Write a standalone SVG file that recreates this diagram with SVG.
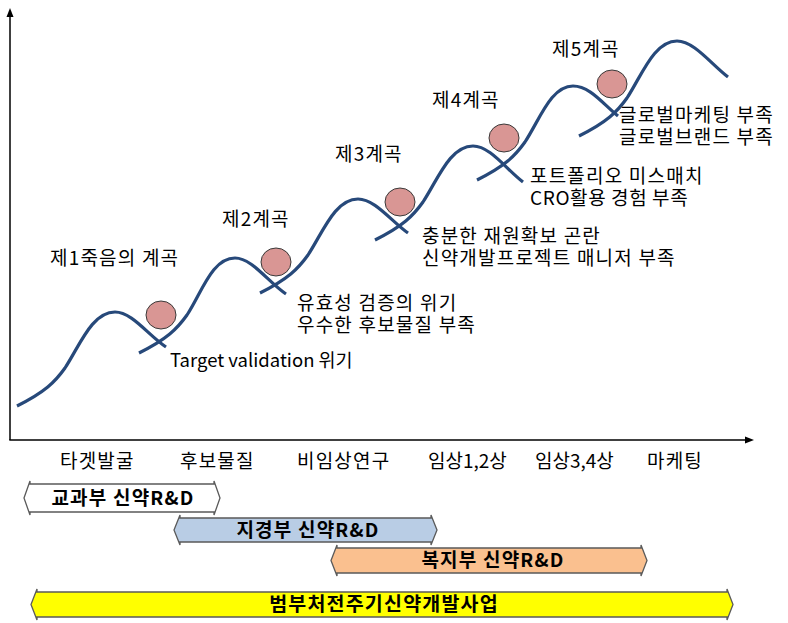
<svg xmlns="http://www.w3.org/2000/svg" width="788" height="623" viewBox="0 0 788 623">
<style>
.t{font-family:"Noto Sans CJK KR","Liberation Sans",sans-serif;font-size:19px;fill:#000}
.k{letter-spacing:1.2px}
.b{font-family:"Noto Sans CJK KR","Liberation Sans",sans-serif;font-size:19px;font-weight:bold;fill:#000;text-anchor:middle;letter-spacing:1.2px}
.w{fill:none;stroke:#27497a;stroke-width:3.2;stroke-linecap:butt}
.c{fill:#d99694;stroke:#3a3a3a;stroke-width:1}
.ax{stroke:#000;stroke-width:1.5;fill:none}
.bar{stroke:#5a5a5a;stroke-width:1.3}
</style>
<rect width="788" height="623" fill="#fff"/>
<g id="axes">
<line class="ax" x1="10" y1="440" x2="10" y2="16"/>
<polygon points="10,8 6.5,17 13.5,17" fill="#000"/>
<line class="ax" x1="9.3" y1="440" x2="745" y2="440"/>
<polygon points="754,440 745,436.5 745,443.5" fill="#000"/>
</g>
<g id="waves">
<path class="w" d="M17,406 C45,392 55,382 65,368 C80,345 92,312 115,312 C132,312 148,335 166,347"/>
<path class="w" d="M139,353 C167,339 177,329 187,315 C202,292 212,258 235,258 C252,258 268,282 286,294"/>
<path class="w" d="M260,293 C288,279 298,269 308,255 C323,232 335,199 358,199 C375,199 391,221 408,233"/>
<path class="w" d="M375,240 C403,226 413,216 423,202 C438,179 450,146 473,146 C490,146 506,169 523,182"/>
<path class="w" d="M477,180 C505,166 515,156 525,142 C540,119 551,86 573,86 C590,86 603,104 618,116"/>
<path class="w" d="M579,136 C607,122 617,112 627,98 C642,75 654,41 677,41 C694,41 711,64 728,77"/>
</g>
<g id="balls">
<ellipse class="c" cx="161" cy="315" rx="15" ry="14"/>
<ellipse class="c" cx="276" cy="262" rx="15" ry="14"/>
<ellipse class="c" cx="400" cy="202" rx="15" ry="14"/>
<ellipse class="c" cx="504" cy="138" rx="15" ry="14"/>
<ellipse class="c" cx="612" cy="84" rx="15" ry="14"/>
</g>
<g id="valley-labels">
<text class="t k" x="50" y="265">제1죽음의 계곡</text>
<text class="t k" x="222" y="226">제2계곡</text>
<text class="t k" x="335" y="161">제3계곡</text>
<text class="t k" x="432" y="107">제4계곡</text>
<text class="t k" x="552" y="56">제5계곡</text>
</g>
<g id="crisis-labels">
<text class="t" x="170" y="367" style="font-size:18.5px">Target validation 위기</text>
<text class="t k" x="297" y="310">유효성 검증의 위기</text>
<text class="t k" x="297" y="332">우수한 후보물질 부족</text>
<text class="t k" x="422" y="243">충분한 재원확보 곤란</text>
<text class="t k" x="422" y="265">신약개발프로젝트 매니저 부족</text>
<text class="t k" x="530" y="183">포트폴리오 미스매치</text>
<text class="t" x="530" y="205" style="letter-spacing:0.6px">CRO활용 경험 부족</text>
<text class="t k" x="619" y="122">글로벌마케팅 부족</text>
<text class="t k" x="619" y="144">글로벌브랜드 부족</text>
</g>
<g id="stages">
<text class="t k" x="60" y="468">타겟발굴</text>
<text class="t k" x="180" y="468">후보물질</text>
<text class="t k" x="297" y="468">비임상연구</text>
<text class="t" x="428" y="468">임상1,2상</text>
<text class="t" x="535" y="468">임상3,4상</text>
<text class="t k" x="647" y="468">마케팅</text>
</g>
<g id="bar-mest">
<path class="bar" fill="#ffffff" d="M24,498 L30,481 L30,484 L214,484 L214,481 L220,498 L214,515 L214,512 L30,512 L30,515 Z"/>
<text class="b" x="123" y="505">교과부 신약R&amp;D</text>
</g>
<g id="bar-mke">
<path class="bar" fill="#b9cde5" d="M174,530 L180,515 L180,518 L431,518 L431,515 L437,530 L431,545 L431,542 L180,542 L180,545 Z"/>
<text class="b" x="308" y="537">지경부 신약R&amp;D</text>
</g>
<g id="bar-mw">
<path class="bar" fill="#fac08f" d="M331,560.5 L337,545 L337,548 L641,548 L641,545 L647,560.5 L641,576 L641,573 L337,573 L337,576 Z"/>
<text class="b" x="493" y="567">복지부 신약R&amp;D</text>
</g>
<g id="bar-all">
<path class="bar" fill="#ffff00" d="M31,604.5 L37,589 L37,592 L727,592 L727,589 L733,604.5 L727,620 L727,617 L37,617 L37,620 Z"/>
<text class="b" x="384" y="611" style="font-size:19.5px">범부처전주기신약개발사업</text>
</g>
</svg>
